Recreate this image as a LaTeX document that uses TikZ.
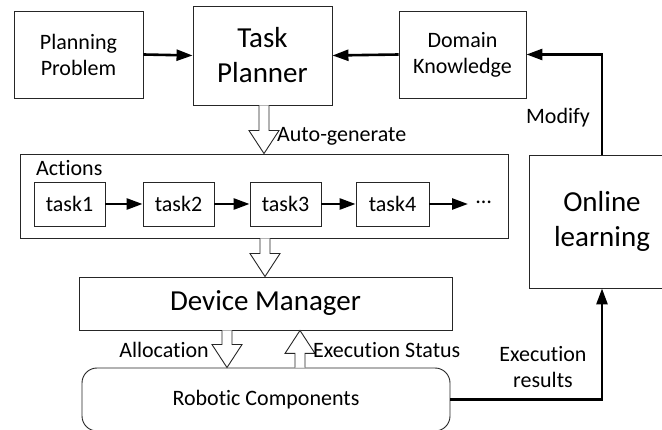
\documentclass[tikz,border=0pt]{standalone}
\usepackage{fontspec}
\setmainfont{Carlito}[Ligatures={NoCommon}]
\usetikzlibrary{arrows.meta,calc}
\tikzset{
  box/.style={draw=black!85, line width=0.9pt, fill=white, inner sep=0pt, align=center,
    font=\fontsize{22}{26}\selectfont},
  bigbox/.style={box, font=\fontsize{29}{35}\selectfont},
  flow/.style={line width=2.6pt, -{Triangle[length=16pt,width=11pt]}},
  hollow/.style={draw=black!85, line width=0.9pt, fill=white, line join=miter},
  lbl/.style={inner sep=0pt, font=\fontsize{22}{26}\selectfont, align=center}
}
\newcommand{\vblock}[2]{%
  \draw[hollow] let \p1=(#1), \p2=(#2), \n1={sign(\y2-\y1)} in
    ({\x1-5pt},\y1) -- ({\x1-5pt},{\y2-\n1*23pt}) -- ({\x1-15pt},{\y2-\n1*23pt})
    -- (\x1,\y2) -- ({\x1+15pt},{\y2-\n1*23pt}) -- ({\x1+5pt},{\y2-\n1*23pt})
    -- ({\x1+5pt},\y1);}
\begin{document}
\begin{tikzpicture}[x=1pt,y=-1pt]
\useasboundingbox (0,0) rectangle (662,430);
\clip (0,0) rectangle (662,430);
% top row
\node[box, minimum width=129pt, minimum height=87pt] (pp) at (78.5,54.5) {Planning\\Problem};
\node[bigbox, minimum width=139pt, minimum height=99pt] (tp) at (262.5,55.5) {Task\\Planner};
\node[box, minimum width=127pt, minimum height=87pt] (dk) at (462.5,54.5) {Domain\\Knowledge};
\node[bigbox, minimum width=146pt, minimum height=133pt] (ol) at (602,221.5) {Online\\learning};
% actions
\node[box, minimum width=488pt, minimum height=84pt] (act) at (264,196) {};
\node[lbl, anchor=west] (actl) at (36,168) {Actions};
\node[box, minimum width=71pt, minimum height=44pt] (t1) at (69.5,204) {task1};
\node[box, minimum width=71pt, minimum height=44pt] (t2) at (178.5,204) {task2};
\node[box, minimum width=71pt, minimum height=44pt] (t3) at (285.5,204) {task3};
\node[box, minimum width=73pt, minimum height=44pt] (t4) at (392.5,204) {task4};
\node[lbl, anchor=west] (dots) at (476,202) {…};
% device manager and robotic components
\node[bigbox, minimum width=373pt, minimum height=53pt] (dm) at (265.5,303.5) {Device Manager};
\node[box, rounded corners=15pt, minimum width=368pt, minimum height=63pt] (rc) at (266,399.5) {Robotic Components};
% arrows
\draw[flow] (pp.east) -- (tp.west);
\draw[flow] (dk.west) -- (tp.east);
\draw[flow] (ol.north) |- (dk.east);
\draw[flow] (rc.east) -| (ol.south);
\draw[flow] (t1) -- (t2);
\draw[flow] (t2) -- (t3);
\draw[flow] (t3) -- (t4);
\draw[flow] (t4.east) -- ($(dots.west)+(-8,2)$);
% hollow arrows
\vblock{$(tp.south)+(1.5,0)$}{$(act.north)+(0,0)$}
\vblock{$(act.south)+(1,0)$}{$(dm.north)+(-0.5,0)$}
\vblock{$(dm.south)+(-38.5,0)$}{$(rc.north)+(-39,0)$}
\vblock{$(rc.north)+(34,0)$}{$(dm.south)+(34.5,0)$}
% labels
\node[lbl, anchor=west] (lag) at (277,136) {Auto-generate};
\node[lbl] (lmod) at (558,118) {Modify};
\node[lbl, anchor=east] (lall) at (209,350) {Allocation};
\node[lbl, anchor=west] (lexs) at (313,350) {Execution Status};
\node[lbl] (lexr) at (543,367) {Execution\\results};
\end{tikzpicture}
\end{document}
